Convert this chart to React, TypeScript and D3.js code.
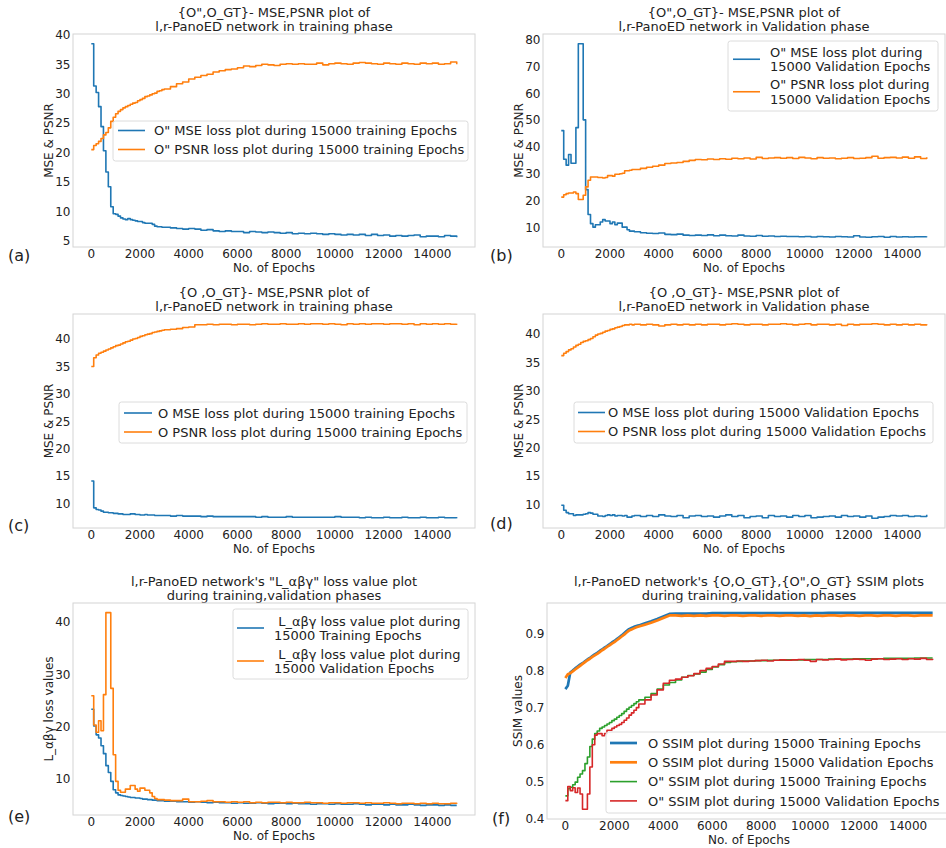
import React from "react";
import * as d3 from "d3";

// epochs at which the logged values change (100 apart up to 3000, then 250 apart)
const epochs = [
  0, 100, 200, 300, 400, 500, 600, 700, 800, 900, 1000, 1100, 1200, 1300, 1400, 1500,
  1600, 1700, 1800, 1900, 2000, 2100, 2200, 2300, 2400, 2500, 2600, 2700, 2800, 2900, 3000,
  3250, 3500, 3750, 4000, 4250, 4500, 4750, 5000, 5250, 5500, 5750, 6000, 6250, 6500, 6750,
  7000, 7250, 7500, 7750, 8000, 8250, 8500, 8750, 9000, 9250, 9500, 9750, 10000, 10250,
  10500, 10750, 11000, 11250, 11500, 11750, 12000, 12250, 12500, 12750, 13000, 13250,
  13500, 13750, 14000, 14250, 14500, 14750, 15000,
];
const xTicks = [0, 2000, 4000, 6000, 8000, 10000, 12000, 14000];

// (a) O'' training
const aMse = [
  38.5, 31.3, 30.2, 27.8, 24.4, 20.3, 16.7, 14.2, 10.8, 9.6, 9.5, 9.2, 8.9, 8.7, 8.6, 8.8,
  8.6, 8.5, 8.4, 8.3, 8.3, 8.1, 8.0, 8.0, 8.0, 7.8, 7.5, 7.4, 7.4, 7.3, 7.3,
  7.2, 7.1, 7.0, 7.1, 7.0, 6.8, 6.9, 6.7, 6.6, 6.7, 6.6, 6.6, 6.4, 6.6, 6.5, 6.4, 6.5, 6.4,
  6.3, 6.4, 6.2, 6.3, 6.2, 6.3, 6.2, 6.1, 6.2, 6.1, 6.0, 6.1, 6.0, 6.1, 5.9, 6.1, 5.9, 6.0,
  5.8, 5.9, 5.8, 5.9, 6.0, 5.7, 5.8, 5.8, 5.7, 5.9, 5.8, 5.6,
];
const aPsnr = [
  20.5, 21.2, 21.5, 21.9, 22.4, 23.0, 23.4, 24.2, 25.3, 26.0, 26.6, 27.0, 27.3, 27.6, 27.8,
  28.0, 28.2, 28.4, 28.5, 28.8, 29.0, 29.2, 29.5, 29.6, 29.8, 30.0, 30.1, 30.4, 30.5, 30.7, 30.8,
  31.2, 31.7, 32.0, 32.5, 32.8, 33.1, 33.3, 33.7, 33.9, 34.1, 34.2, 34.4, 34.7, 34.6, 34.8,
  35.0, 34.9, 34.8, 35.0, 35.1, 35.0, 35.1, 35.0, 35.0, 35.2, 34.9, 35.1, 35.2, 35.1, 35.0,
  35.2, 35.3, 35.2, 35.1, 35.0, 35.2, 35.1, 35.0, 35.2, 35.1, 35.0, 35.2, 35.1, 35.2, 35.0,
  35.1, 35.4, 35.0,
];

// (b) O'' validation
const bMse = [
  46.1, 35.4, 33.2, 37.2, 33.9, 33.9, 47.2, 78.5, 78.5, 50.1, 24.1, 14.8, 11.4, 10.1, 11.0,
  11.0, 12.0, 12.9, 12.4, 12.4, 11.4, 12.0, 11.0, 11.6, 11.6, 10.1, 10.1, 9.1, 8.6, 8.6, 8.4,
  8.0, 7.8, 7.7, 7.9, 7.4, 7.3, 7.5, 7.1, 7.0, 7.1, 7.0, 7.2, 6.9, 7.1, 6.9, 6.8, 7.1, 6.8,
  6.7, 7.0, 6.7, 6.8, 6.6, 6.7, 6.6, 6.6, 6.5, 6.6, 6.4, 6.6, 6.5, 6.4, 6.6, 6.5, 6.4, 6.9,
  6.4, 6.3, 6.5, 6.6, 6.3, 6.6, 6.4, 6.5, 6.4, 6.5, 6.5, 6.6,
];
const bPsnr = [
  21.3, 22.2, 22.6, 22.8, 22.8, 23.2, 22.6, 20.4, 20.4, 22.0, 25.1, 27.6, 28.8, 28.8, 28.8,
  28.6, 28.6, 28.4, 28.6, 29.3, 29.3, 29.1, 29.8, 29.8, 30.0, 30.2, 31.1, 31.1, 31.3, 31.6, 31.6,
  32.0, 32.4, 32.8, 33.2, 33.8, 34.0, 34.2, 34.6, 35.0, 35.3, 35.2, 35.5, 35.3, 35.6, 35.4,
  35.8, 35.6, 35.9, 35.5, 36.1, 35.7, 35.9, 36.0, 35.8, 36.0, 35.7, 36.1, 35.9, 35.6, 36.0,
  35.8, 35.9, 35.6, 35.8, 36.0, 35.7, 35.8, 36.0, 36.5, 35.8, 36.0, 36.1, 35.9, 36.2, 35.8,
  36.3, 35.7, 36.2,
];

// (c) O training
const cMse = [
  14.1, 9.2, 8.9, 8.8, 8.6, 8.4, 8.4, 8.3, 8.3, 8.2, 8.2, 8.1, 8.1, 8.0, 8.0, 8.0, 8.1, 8.1,
  8.0, 8.0, 7.9, 7.9, 8.0, 7.9, 7.9, 7.9, 7.8, 7.8, 7.8, 7.8, 7.8,
  7.7, 7.8, 7.7, 7.7, 7.7, 7.6, 7.7, 7.6, 7.6, 7.6, 7.6, 7.6, 7.6, 7.6, 7.5, 7.6, 7.5, 7.5,
  7.5, 7.6, 7.5, 7.5, 7.5, 7.5, 7.5, 7.5, 7.5, 7.6, 7.5, 7.5, 7.5, 7.4, 7.5, 7.4, 7.4, 7.5,
  7.4, 7.4, 7.5, 7.4, 7.4, 7.5, 7.4, 7.4, 7.5, 7.4, 7.4, 7.3,
];
const cPsnr = [
  35.0, 36.6, 37.1, 37.4, 37.6, 37.8, 38.0, 38.2, 38.4, 38.6, 38.8, 38.9, 39.1, 39.3, 39.5,
  39.6, 39.8, 40.0, 40.1, 40.3, 40.5, 40.6, 40.8, 40.9, 41.0, 41.2, 41.3, 41.4, 41.5, 41.6, 41.7,
  41.8, 41.9, 42.1, 42.2, 42.6, 42.6, 42.7, 42.6, 42.7, 42.7, 42.6, 42.7, 42.7, 42.6, 42.7,
  42.8, 42.7, 42.7, 42.8, 42.7, 42.7, 42.8, 42.7, 42.8, 42.8, 42.7, 42.8, 42.7, 42.6, 42.8,
  42.7, 42.8, 42.7, 42.8, 42.8, 42.7, 42.8, 42.8, 42.7, 42.8, 42.6, 42.8, 42.7, 42.8, 42.7,
  42.8, 42.7, 42.8,
];

// (d) O validation
const dMse = [
  9.9, 9.0, 8.6, 8.4, 8.4, 8.1, 8.2, 8.2, 8.2, 8.3, 8.4, 8.6, 8.5, 8.3, 8.3, 8.0, 8.0, 7.9,
  8.1, 8.2, 8.1, 8.2, 8.0, 8.1, 8.1, 8.0, 8.1, 7.8, 7.8, 8.0, 8.1,
  7.9, 8.1, 7.9, 8.2, 8.0, 7.9, 8.1, 7.7, 8.0, 8.1, 7.9, 8.0, 7.8, 8.0, 8.2, 7.9, 8.1, 7.7,
  7.9, 8.0, 7.7, 8.1, 7.9, 8.0, 7.8, 8.1, 7.9, 8.1, 7.7, 7.8, 7.9, 8.0, 7.8, 8.1, 7.9, 8.0,
  7.8, 8.0, 7.6, 7.8, 7.9, 8.1, 8.0, 8.1, 7.9, 8.0, 7.9, 8.2,
];
const dPsnr = [
  36.2, 36.6, 36.9, 37.2, 37.4, 37.7, 38.0, 38.2, 38.5, 38.7, 38.8, 39.0, 39.2, 39.5, 39.8,
  40.0, 40.1, 40.3, 40.5, 40.6, 40.8, 40.9, 41.1, 41.2, 41.3, 41.5, 41.6, 41.6, 41.7, 41.6, 41.7,
  41.6, 41.7, 41.6, 41.4, 41.6, 41.7, 41.6, 41.7, 41.6, 41.7, 41.6, 41.7, 41.7, 41.6, 41.7,
  41.8, 41.7, 41.6, 41.7, 41.7, 41.6, 41.7, 41.7, 41.8, 41.7, 41.6, 41.7, 41.8, 41.6, 41.7,
  41.7, 41.6, 41.7, 41.5, 41.7, 41.6, 41.7, 41.7, 41.8, 41.7, 41.6, 41.7, 41.6, 41.7, 41.6,
  41.7, 41.6, 41.7,
];

// (e) L_abg loss
const eTrain = [
  23.3, 20.1, 18.4, 17.8, 16.3, 14.8, 12.5, 11.2, 9.5, 7.9, 7.3, 6.9, 6.8, 6.7, 6.6, 6.5,
  6.4, 6.4, 6.3, 6.3, 6.2, 6.1, 6.1, 6.0, 6.0, 5.9, 5.9, 5.8, 5.8, 5.8, 5.7,
  5.7, 5.6, 5.6, 5.5, 5.6, 5.5, 5.4, 5.5, 5.4, 5.4, 5.3, 5.4, 5.3, 5.3, 5.4, 5.3, 5.2, 5.3,
  5.3, 5.2, 5.3, 5.2, 5.2, 5.1, 5.2, 5.2, 5.1, 5.2, 5.1, 5.1, 5.2, 5.1, 5.0, 5.1, 5.1, 5.0,
  5.1, 5.0, 5.0, 5.1, 5.0, 4.9, 5.0, 5.0, 4.9, 5.0, 4.9, 4.9,
];
const eVal = [
  25.9, 20.3, 18.9, 21.1, 19.2, 26.1, 41.8, 41.8, 27.3, 14.6, 9.5, 7.8, 7.4, 7.4, 8.0, 8.0,
  8.7, 8.7, 8.0, 7.6, 8.2, 8.2, 7.8, 7.8, 7.3, 6.6, 6.2, 6.0, 6.0, 6.0, 5.9,
  5.8, 5.8, 6.1, 5.6, 5.6, 5.7, 5.8, 5.6, 5.6, 5.5, 5.6, 5.5, 5.6, 5.4, 5.5, 5.4, 5.5, 5.5,
  5.4, 5.5, 5.4, 5.4, 5.5, 5.4, 5.4, 5.3, 5.4, 5.4, 5.3, 5.4, 5.4, 5.3, 5.4, 5.3, 5.3, 5.4,
  5.3, 5.2, 5.3, 5.3, 5.2, 5.3, 5.2, 5.3, 5.2, 5.2, 5.3, 5.2,
];

// (f) SSIM
const fOTrain = [
  0.750, 0.759, 0.795, 0.800, 0.806, 0.811, 0.816, 0.820, 0.825, 0.830, 0.834, 0.839, 0.844,
  0.848, 0.853, 0.857, 0.862, 0.866, 0.871, 0.876, 0.880, 0.885, 0.890, 0.895, 0.901, 0.907,
  0.912, 0.915, 0.918, 0.920, 0.922,
  0.928, 0.933, 0.939, 0.946, 0.953, 0.954, 0.954, 0.954, 0.954, 0.954, 0.954, 0.955, 0.955,
  0.955, 0.955, 0.955, 0.955, 0.955, 0.955, 0.955, 0.955, 0.955, 0.955, 0.955, 0.955, 0.955,
  0.955, 0.955, 0.955, 0.955, 0.956, 0.956, 0.956, 0.956, 0.956, 0.956, 0.956, 0.956, 0.956,
  0.956, 0.956, 0.956, 0.956, 0.956, 0.956, 0.956, 0.956, 0.956,
];
const fOVal = [
  0.780, 0.790, 0.793, 0.798, 0.803, 0.808, 0.813, 0.818, 0.823, 0.828, 0.832, 0.837, 0.841,
  0.845, 0.850, 0.855, 0.859, 0.864, 0.868, 0.873, 0.877, 0.882, 0.887, 0.892, 0.897, 0.903,
  0.908, 0.911, 0.914, 0.917, 0.919,
  0.924, 0.929, 0.935, 0.942, 0.949, 0.949, 0.948, 0.949, 0.948, 0.949, 0.948, 0.949, 0.949,
  0.948, 0.949, 0.949, 0.948, 0.949, 0.949, 0.948, 0.949, 0.949, 0.948, 0.949, 0.949, 0.948,
  0.949, 0.947, 0.949, 0.948, 0.949, 0.949, 0.948, 0.949, 0.949, 0.948, 0.949, 0.949, 0.948,
  0.949, 0.949, 0.948, 0.949, 0.949, 0.948, 0.949, 0.949, 0.949,
];
const fDTrain = [
  0.462, 0.481, 0.485, 0.492, 0.499, 0.512, 0.521, 0.530, 0.549, 0.567, 0.595, 0.615, 0.630,
  0.637, 0.644, 0.648, 0.652, 0.656, 0.660, 0.665, 0.669, 0.674, 0.679, 0.684, 0.690, 0.696,
  0.701, 0.706, 0.711, 0.716, 0.721,
  0.728, 0.738, 0.750, 0.761, 0.768, 0.775, 0.782, 0.787, 0.791, 0.796, 0.803, 0.810, 0.816,
  0.822, 0.824, 0.825, 0.826, 0.826, 0.827, 0.827, 0.828, 0.828, 0.828, 0.829, 0.829, 0.829,
  0.830, 0.830, 0.830, 0.830, 0.831, 0.831, 0.831, 0.831, 0.832, 0.832, 0.832, 0.832, 0.832,
  0.833, 0.833, 0.833, 0.833, 0.833, 0.834, 0.834, 0.834, 0.834,
];
const fDVal = [
  0.449, 0.487, 0.476, 0.484, 0.471, 0.483, 0.467, 0.426, 0.426, 0.467, 0.540, 0.600, 0.626,
  0.630, 0.630, 0.624, 0.630, 0.639, 0.639, 0.644, 0.648, 0.652, 0.655, 0.660, 0.666, 0.672,
  0.680, 0.686, 0.693, 0.700, 0.710,
  0.721, 0.734, 0.748, 0.766, 0.774, 0.777, 0.782, 0.786, 0.792, 0.800, 0.806, 0.811, 0.818,
  0.825, 0.825, 0.826, 0.825, 0.826, 0.827, 0.828, 0.826, 0.828, 0.829, 0.828, 0.829, 0.830,
  0.828, 0.825, 0.830, 0.829, 0.830, 0.831, 0.829, 0.830, 0.831, 0.830, 0.828, 0.831, 0.832,
  0.830, 0.831, 0.832, 0.830, 0.832, 0.831, 0.833, 0.830, 0.832,
];

const FONT = "'DejaVu Sans', sans-serif";
const INK = "#222222";
const BLUE = "#1f77b4";
const ORANGE = "#ff7f0e";
const GREEN = "#2ca02c";
const RED = "#d62728";

type Series = { values: number[]; color: string; width: number; label: string[]; smooth?: boolean };
type Legend = {
  x: number; y: number; w: number; h: number;
  first: number; lineGap: number; entryGap: number;
  s0: number; s1: number; tx: number;
};
type PanelDef = {
  frame: { l: number; t: number; r: number; b: number };
  title: string[];
  ylabel: string;
  ylabelGap: number;
  yTicks: number[];
  yFmt: (d: number) => string;
  tag: { text: string; x: number; y: number };
  legend: Legend;
  series: Series[];
};

const intFmt = (d: number) => String(d);

const panels: PanelDef[] = [
  {
    frame: { l: 73, t: 34, r: 475, b: 247 },
    title: ['{O",O_GT}- MSE,PSNR plot of', "l,r-PanoED network in training phase"],
    ylabel: "MSE & PSNR",
    ylabelGap: 20,
    yTicks: [5, 10, 15, 20, 25, 30, 35, 40],
    yFmt: intFmt,
    tag: { text: "(a)", x: 8, y: 261 },
    legend: { x: 113, y: 121, w: 355, h: 40, first: 9.5, lineGap: 0, entryGap: 19, s0: 118, s1: 145, tx: 154 },
    series: [
      { values: aMse, color: BLUE, width: 1.6, label: ['O" MSE loss plot during 15000 training Epochs'] },
      { values: aPsnr, color: ORANGE, width: 1.6, label: ['O" PSNR loss plot during 15000 training Epochs'] },
    ],
  },
  {
    frame: { l: 543, t: 34, r: 945, b: 247 },
    title: ['{O",O_GT}- MSE,PSNR plot of', "l,r-PanoED network in Validation phase"],
    ylabel: "MSE & PSNR",
    ylabelGap: 20,
    yTicks: [10, 20, 30, 40, 50, 60, 70, 80],
    yFmt: intFmt,
    tag: { text: "(b)", x: 490, y: 261 },
    legend: { x: 728, y: 41, w: 210, h: 70, first: 11, lineGap: 14.5, entryGap: 32.5, s0: 733, s1: 760, tx: 770 },
    series: [
      { values: bMse, color: BLUE, width: 1.6, label: ['O" MSE loss plot during', "15000 Validation Epochs"] },
      { values: bPsnr, color: ORANGE, width: 1.6, label: ['O" PSNR loss plot during', "15000 Validation Epochs"] },
    ],
  },
  {
    frame: { l: 73, t: 314, r: 475, b: 528 },
    title: ["{O ,O_GT}- MSE,PSNR plot of", "l,r-PanoED network in training phase"],
    ylabel: "MSE & PSNR",
    ylabelGap: 20,
    yTicks: [10, 15, 20, 25, 30, 35, 40],
    yFmt: intFmt,
    tag: { text: "(c)", x: 8, y: 531 },
    legend: { x: 119, y: 402, w: 348, h: 41, first: 11, lineGap: 0, entryGap: 19, s0: 124, s1: 152, tx: 158 },
    series: [
      { values: cMse, color: BLUE, width: 1.6, label: ["O MSE loss plot during 15000 training Epochs"] },
      { values: cPsnr, color: ORANGE, width: 1.6, label: ["O PSNR loss plot during 15000 training Epochs"] },
    ],
  },
  {
    frame: { l: 543, t: 314, r: 945, b: 528 },
    title: ["{O ,O_GT}- MSE,PSNR plot of", "l,r-PanoED network in Validation phase"],
    ylabel: "MSE & PSNR",
    ylabelGap: 20,
    yTicks: [10, 15, 20, 25, 30, 35, 40],
    yFmt: intFmt,
    tag: { text: "(d)", x: 490, y: 529 },
    legend: { x: 574, y: 402, w: 359, h: 41, first: 10.5, lineGap: 0, entryGap: 19, s0: 578, s1: 605, tx: 608 },
    series: [
      { values: dMse, color: BLUE, width: 1.6, label: ["O MSE loss plot during 15000 Validation Epochs"] },
      { values: dPsnr, color: ORANGE, width: 1.6, label: ["O PSNR loss plot during 15000 Validation Epochs"] },
    ],
  },
  {
    frame: { l: 73, t: 603, r: 475, b: 815 },
    title: ['l,r-PanoED network\'s "L_αβγ" loss value plot', "during training,validation phases"],
    ylabel: "L_αβγ loss values",
    ylabelGap: 20,
    yTicks: [10, 20, 30, 40],
    yFmt: intFmt,
    tag: { text: "(e)", x: 8, y: 822 },
    legend: { x: 233, y: 609, w: 235, h: 70, first: 12, lineGap: 14, entryGap: 33, s0: 237, s1: 264, tx: 274 },
    series: [
      { values: eTrain, color: BLUE, width: 1.6, label: [" L_αβγ loss value plot during", "15000 Training Epochs"] },
      { values: eVal, color: ORANGE, width: 1.6, label: [" L_αβγ loss value plot during", "15000 Validation Epochs"] },
    ],
  },
  {
    frame: { l: 547, t: 603, r: 951, b: 819 },
    title: ["l,r-PanoED network's {O,O_GT},{O\",O_GT} SSIM plots", "during training,validation phases"],
    ylabel: "SSIM values",
    ylabelGap: 25,
    yTicks: [0.4, 0.5, 0.6, 0.7, 0.8, 0.9],
    yFmt: (d: number) => d.toFixed(1),
    tag: { text: "(f)", x: 492, y: 824 },
    legend: { x: 606, y: 732, w: 345, h: 81, first: 11, lineGap: 0, entryGap: 19.3, s0: 610, s1: 637, tx: 648 },
    series: [
      { values: fOTrain, color: BLUE, width: 2.7, smooth: true, label: ["O SSIM plot during 15000 Training Epochs"] },
      { values: fOVal, color: ORANGE, width: 2.7, smooth: true, label: ["O SSIM plot during 15000 Validation Epochs"] },
      { values: fDTrain, color: GREEN, width: 1.6, label: ['O" SSIM plot during 15000 Training Epochs'] },
      { values: fDVal, color: RED, width: 1.6, label: ['O" SSIM plot during 15000 Validation Epochs'] },
    ],
  },
];

// matplotlib style 5% margins around the data extent
function padded(ext: [number, number]): [number, number] {
  const m = (ext[1] - ext[0]) * 0.05;
  return [ext[0] - m, ext[1] + m];
}

function Panel({ p }: { p: PanelDef }) {
  const { l, t, r, b } = p.frame;
  const x = d3.scaleLinear().domain(padded([0, 15000])).range([l, r]);
  const all = p.series.flatMap((s) => s.values);
  const y = d3.scaleLinear().domain(padded(d3.extent(all) as [number, number])).range([b, t]);
  const stepLine = d3
    .line<number>()
    .x((_, i) => x(epochs[i]))
    .y((d) => y(d))
    .curve(d3.curveStepAfter);
  const plainLine = d3
    .line<number>()
    .x((_, i) => x(epochs[i]))
    .y((d) => y(d));
  const cx = (l + r) / 2;
  const lg = p.legend;

  return (
    <g fontFamily={FONT} fill={INK}>
      {p.title.map((s, i) => (
        <text key={i} x={cx} y={t - 17 + i * 14} fontSize={13} textAnchor="middle">
          {s}
        </text>
      ))}
      <rect x={l} y={t} width={r - l} height={b - t} fill="none" stroke="#d4d4d4" strokeWidth={1} />
      {p.series.map((s, i) => (
        <path
          key={i}
          d={(s.smooth ? plainLine : stepLine)(s.values) || ""}
          fill="none"
          stroke={s.color}
          strokeWidth={s.width}
          strokeLinejoin="round"
        />
      ))}
      {xTicks.map((v) => (
        <text key={v} x={x(v)} y={b + 10.5} fontSize={12} textAnchor="middle">
          {v}
        </text>
      ))}
      {p.yTicks.map((v) => (
        <text key={v} x={l - 2.5} y={y(v)} dy="0.36em" fontSize={12} textAnchor="end">
          {p.yFmt(v)}
        </text>
      ))}
      <text x={cx} y={b + 25} fontSize={12} textAnchor="middle">
        No. of Epochs
      </text>
      <text
        transform={`translate(${l - p.ylabelGap},${(t + b) / 2}) rotate(-90)`}
        fontSize={12}
        textAnchor="middle"
      >
        {p.ylabel}
      </text>
      <text x={p.tag.x} y={p.tag.y} fontSize={16}>
        {p.tag.text}
      </text>
      <rect
        x={lg.x}
        y={lg.y}
        width={lg.w}
        height={lg.h}
        rx={2.5}
        fill="#ffffff"
        fillOpacity={0.8}
        stroke="#dcdcdc"
        strokeWidth={1}
      />
      {p.series.map((s, i) => {
        const top = lg.y + lg.first + i * lg.entryGap;
        const sy = top + ((s.label.length - 1) * lg.lineGap) / 2;
        return (
          <g key={i}>
            <line x1={lg.s0} x2={lg.s1} y1={sy} y2={sy} stroke={s.color} strokeWidth={s.width} />
            {s.label.map((txt, j) => (
              <text
                key={j}
                x={lg.tx}
                y={top + j * lg.lineGap}
                dy="0.36em"
                fontSize={13}
                style={{ whiteSpace: "pre" }}
              >
                {txt}
              </text>
            ))}
          </g>
        );
      })}
    </g>
  );
}

export default function App() {
  return (
    <svg
      width={946}
      height={848}
      style={{ position: "absolute", left: 0, top: 0, background: "#ffffff" }}
    >
      <rect width={946} height={848} fill="#ffffff" />
      {panels.map((p, i) => (
        <Panel key={i} p={p} />
      ))}
    </svg>
  );
}
